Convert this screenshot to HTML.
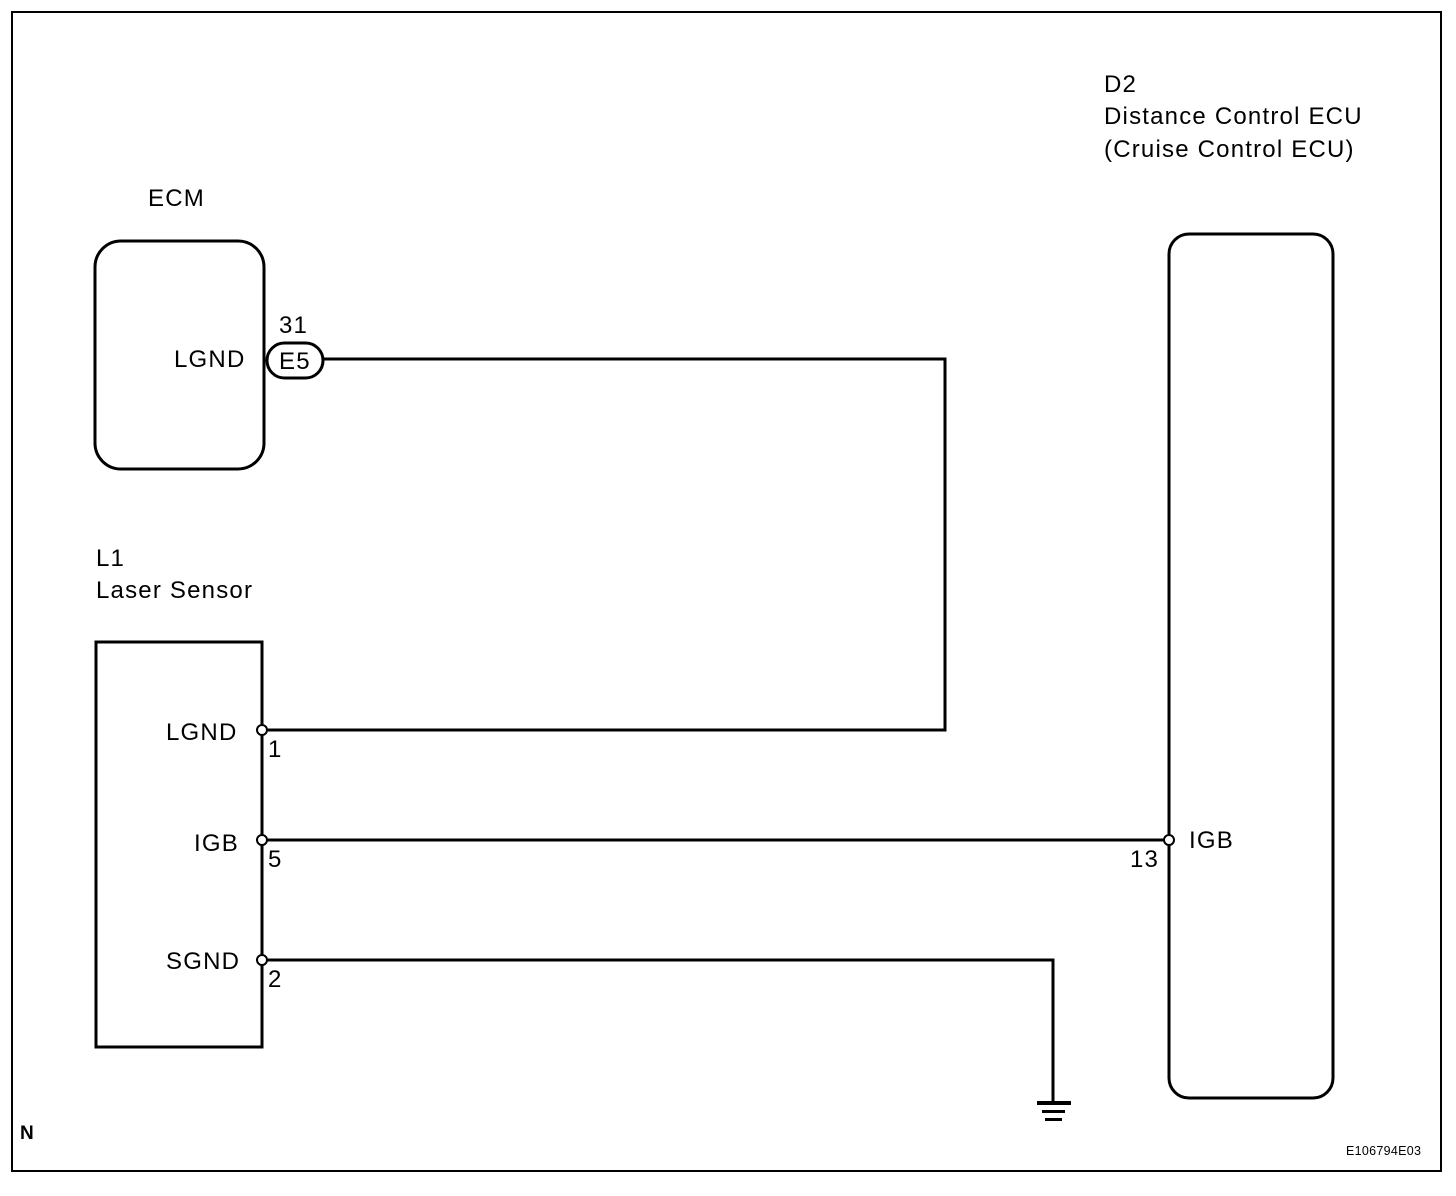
<!DOCTYPE html>
<html><head><meta charset="utf-8"><style>
html,body{margin:0;padding:0;background:#fff;}
svg{display:block;}
text{font-family:"Liberation Sans",Arial,sans-serif;fill:#000;}
</style></head><body>
<svg width="1456" height="1196" viewBox="0 0 1456 1196" xmlns="http://www.w3.org/2000/svg">
<rect x="12" y="12" width="1429" height="1159" fill="none" stroke="#000" stroke-width="2"/>
<g fill="none" stroke="#000" stroke-width="3">
<rect x="95" y="241" width="169" height="228" rx="26"/>
<rect x="96" y="642" width="166" height="405"/>
<rect x="1169" y="234" width="164" height="864" rx="20"/>
<rect x="267" y="343" width="56" height="35" rx="17.5"/>
<polyline points="323,359 945,359 945,730 262,730"/>
<line x1="262" y1="840" x2="1169" y2="840"/>
<polyline points="262,960 1053,960 1053,1103"/>
</g>
<g fill="#000">
<rect x="1037" y="1101" width="34" height="4"/>
<rect x="1042" y="1110" width="23" height="3"/>
<rect x="1045" y="1118" width="17" height="3"/>
</g>
<g fill="#fff" stroke="#000" stroke-width="2">
<circle cx="262" cy="730" r="5"/>
<circle cx="262" cy="840" r="5"/>
<circle cx="262" cy="960" r="5"/>
<circle cx="1169" cy="840" r="5"/>
</g>
<g font-size="24" letter-spacing="1.2">
<text x="148" y="206">ECM</text>
<text x="174" y="367">LGND</text>
<text x="279" y="333">31</text>
<text x="279" y="369">E5</text>
<text x="96" y="566">L1</text>
<text x="96" y="598">Laser Sensor</text>
<text x="166" y="740">LGND</text>
<text x="194" y="851">IGB</text>
<text x="166" y="969">SGND</text>
<text x="268" y="757">1</text>
<text x="268" y="867">5</text>
<text x="268" y="987">2</text>
<text x="1104" y="92">D2</text>
<text x="1104" y="124">Distance Control ECU</text>
<text x="1104" y="157">(Cruise Control ECU)</text>
<text x="1189" y="848">IGB</text>
<text x="1130" y="867">13</text>
</g>
<text x="20" y="1139" font-size="19" font-weight="bold">N</text>
<text x="1346" y="1155" font-size="12.5" letter-spacing="0.3">E106794E03</text>
</svg>
</body></html>
